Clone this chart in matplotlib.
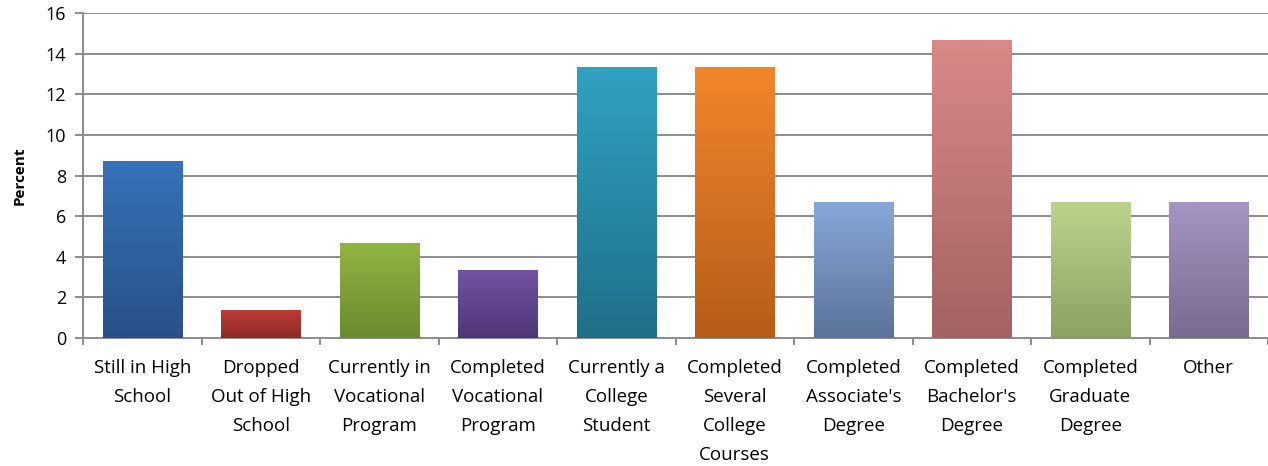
import matplotlib
matplotlib.use('Agg')
import matplotlib.pyplot as plt
import numpy as np
from matplotlib.colors import LinearSegmentedColormap

categories = ["Still in High\nSchool", "Dropped\nOut of High\nSchool",
              "Currently in\nVocational\nProgram", "Completed\nVocational\nProgram",
              "Currently a\nCollege\nStudent", "Completed\nSeveral\nCollege\nCourses",
              "Completed\nAssociate's\nDegree", "Completed\nBachelor's\nDegree",
              "Completed\nGraduate\nDegree", "Other"]
percent = [8.67, 1.33, 4.67, 3.33, 13.33, 13.33, 6.67, 14.67, 6.67, 6.67]
# (top colour, bottom colour) for each bar's gradient
top_colors = ['#3672b8', '#bc3c38', '#92b442', '#7252a2', '#30a2c2',
              '#f2862a', '#88a8d8', '#da8888', '#bad48e', '#a694c2']
bottom_colors = ['#29508a', '#8e2a26', '#6a8a30', '#4e3676', '#1f6f88',
                 '#b65c1a', '#5a7298', '#a46262', '#8aa262', '#7a6a90']

plt.rcParams['font.family'] = ['Open Sans', 'DejaVu Sans']

fig = plt.figure(figsize=(12.68, 4.66), dpi=100)
ax = fig.add_axes([0.0655, 0.2747, 0.9345, 0.6973])

width = 0.67
for i, (val, ctop, cbot) in enumerate(zip(percent, top_colors, bottom_colors)):
    cmap = LinearSegmentedColormap.from_list(f'g{i}', [cbot, ctop])
    grad = np.linspace(0, 1, 256).reshape(-1, 1)
    ax.imshow(grad, cmap=cmap, origin='lower', aspect='auto',
              extent=(i - width / 2, i + width / 2, 0, val), zorder=3)

ax.set_xlim(-0.5, len(percent) - 0.5)
ax.set_ylim(0, 16)
ax.set_yticks(np.arange(0, 17, 2))
ax.yaxis.grid(True, color='#8c8c8c', linewidth=1.4)
ax.set_axisbelow(True)

ax.set_xticks(range(len(categories)))
ax.set_xticklabels(categories, fontsize=13.5, linespacing=1.78, va='top')
ax.set_xticks(np.arange(-0.5, len(categories), 1), minor=True)
ax.tick_params(axis='x', which='major', length=0, pad=15)
ax.tick_params(axis='x', which='minor', length=5, color='#8c8c8c', width=1.4)
ax.tick_params(axis='y', length=6, color='#8c8c8c', width=1.4, labelsize=13, pad=6)

for s in ['top', 'right']:
    ax.spines[s].set_visible(False)
for s in ['left', 'bottom']:
    ax.spines[s].set_color('#8c8c8c')
    ax.spines[s].set_linewidth(1.4)

ax.set_ylabel('Percent', fontsize=11, fontweight='bold', labelpad=14)

fig.savefig('out.png', dpi=100)
